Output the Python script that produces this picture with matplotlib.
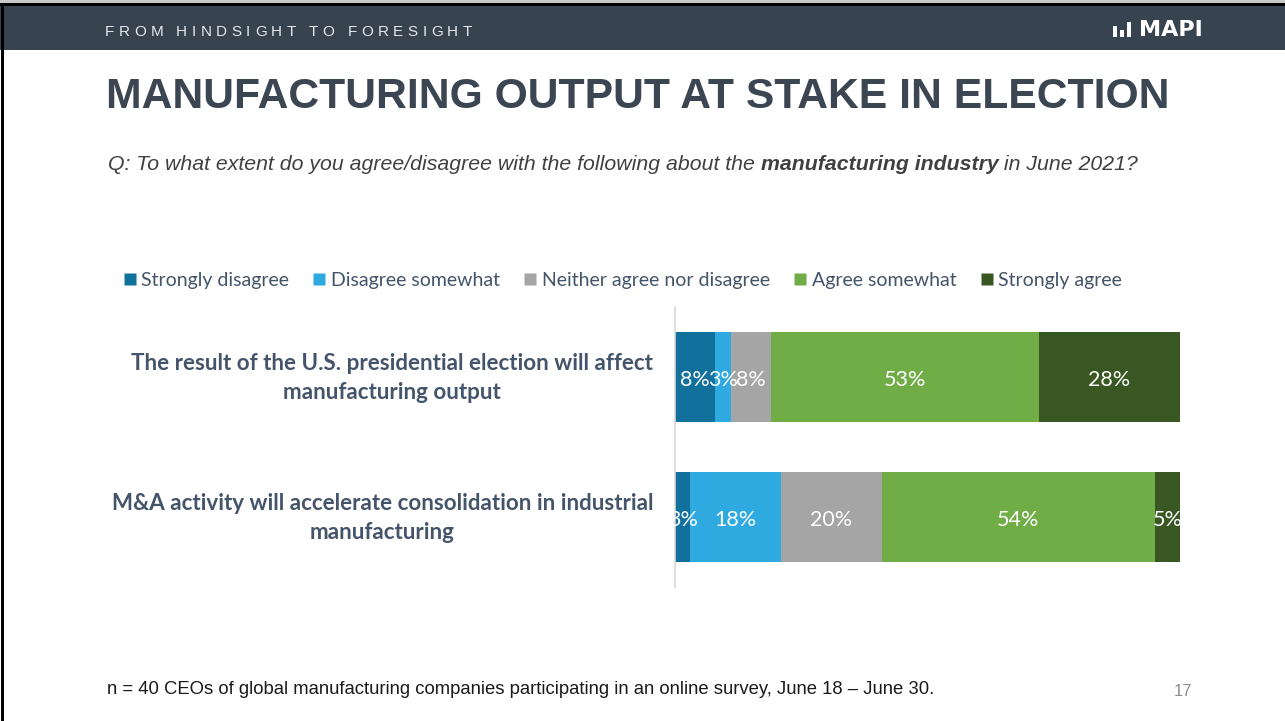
import matplotlib
matplotlib.use("Agg")
import matplotlib.pyplot as plt
from matplotlib.patches import Rectangle
from matplotlib.lines import Line2D

# ---------------- data ----------------
statements = [
    "The result of the U.S. presidential election will affect\nmanufacturing output",
    "M&A activity will accelerate consolidation in industrial\nmanufacturing",
]
responses = ["Strongly disagree", "Disagree somewhat", "Neither agree nor disagree",
             "Agree somewhat", "Strongly agree"]
strongly_disagree = [8, 3]
disagree_somewhat = [3, 18]
neither = [8, 20]
agree_somewhat = [53, 54]
strongly_agree = [28, 5]
colors = ["#12709C", "#2EAAE1", "#A5A5A5", "#70AD47", "#385723"]

title = "MANUFACTURING OUTPUT AT STAKE IN ELECTION"
header = "FROM HINDSIGHT TO FORESIGHT"
footnote = "n = 40 CEOs of global manufacturing companies participating in an online survey, June 18 \u2013 June 30."
page = "17"

W, H = 1285, 721
fig = plt.figure(figsize=(W / 100, H / 100), dpi=100)
fig.patch.set_facecolor("white")


def fx(x):
    return x / W


def fy(y):
    return 1 - y / H


renderer = fig.canvas.get_renderer()

# ---------------- frame / header band ----------------
fig.add_artist(Rectangle((0, fy(50)), 1, fy(6) - fy(50), transform=fig.transFigure,
                         facecolor="#37434F", edgecolor="none", zorder=1))
fig.add_artist(Rectangle((0, fy(6)), 1, fy(3) - fy(6), transform=fig.transFigure,
                         facecolor="black", edgecolor="none", zorder=2))
fig.add_artist(Rectangle((0, fy(3)), 1, fy(0) - fy(3), transform=fig.transFigure,
                         facecolor="#C8C8C8", edgecolor="none", zorder=2))
fig.add_artist(Rectangle((fx(1), 0), fx(3), fy(4), transform=fig.transFigure,
                         facecolor="black", edgecolor="none", zorder=2))

# letter-spaced header text
x = 105
for ch in header:
    t = fig.text(fx(x), fy(31.5), ch, color="#E6E8EA", fontsize=11,
                 family="Liberation Sans", va="center", ha="left", zorder=3)
    if ch == " ":
        w = 3.8
    else:
        w = t.get_window_extent(renderer).width
    x += w + 4.5

# MAPI logo
for bx, bh in [(1113, 11), (1120, 7), (1127, 15)]:
    fig.add_artist(Rectangle((fx(bx), fy(37)), fx(4), fy(37 - bh) - fy(37),
                             transform=fig.transFigure, facecolor="white",
                             edgecolor="none", zorder=3))
fig.text(fx(1139), fy(30.5), "MAPI", color="white", fontsize=16, fontweight="heavy",
         family="DejaVu Sans", va="center", ha="left", zorder=3)

# ---------------- title / subtitle ----------------
fig.text(fx(106), fy(97), title, color="#3B4652", fontsize=30.7, fontweight="bold",
         family="Liberation Sans", va="center", ha="left")

parts = [("Q: To what extent do you agree/disagree with the following about the ", "normal"),
         ("manufacturing industry", "bold"),
         (" in June 2021?", "normal")]
x = 108
for s, wgt in parts:
    t = fig.text(fx(x), fy(165), s, color="#404040", fontsize=15.3, style="italic",
                 fontweight=wgt, family="Liberation Sans", va="center", ha="left")
    x += t.get_window_extent(renderer).width

# ---------------- chart ----------------
ax = fig.add_axes([fx(675), fy(587), fx(1180) - fx(675), fy(307) - fy(587)])
series = [strongly_disagree, disagree_somewhat, neither, agree_somewhat, strongly_agree]
ypos = list(range(len(statements)))
left = [0] * len(statements)
for vals, col, name in zip(series, colors, responses):
    ax.barh(ypos, vals, left=left, height=0.645, color=col, edgecolor="none", label=name)
    for i, v in enumerate(vals):
        ax.text(left[i] + v / 2, ypos[i] + 0.02, f"{v}%", color="white", fontsize=15.5,
                family="Lato", ha="center", va="center")
    left = [l + v for l, v in zip(left, vals)]

ax.set_xlim(0, 100)
ax.set_ylim(1.5, -0.5)
ax.set_xticks([])
ax.set_yticks(ypos)
ax.set_yticklabels([])
ax.tick_params(axis="y", length=0)
for s in ["top", "right", "bottom"]:
    ax.spines[s].set_visible(False)
ax.spines["left"].set_color("#D9D9D9")
ax.spines["left"].set_linewidth(1.2)

for i, lab in enumerate(statements):
    ax.annotate(lab, xy=(0, ypos[i]), xycoords=("axes fraction", "data"),
                xytext=(-22, -1), textcoords="offset pixels",
                ha="right", va="center", multialignment="center",
                fontsize=16.1, fontweight="bold", family="Lato", color="#44546A",
                linespacing=1.42)

# legend
handles = [Line2D([0], [0], marker="s", linestyle="none", markersize=8.5,
                  markerfacecolor=c, markeredgecolor="none") for c in colors]
fig.legend(handles, responses, loc="center", bbox_to_anchor=(fx(622), fy(280)),
           ncol=5, frameon=False, handlelength=0.8, handletextpad=0.2,
           columnspacing=1.15, prop={"family": "Lato", "size": 14},
           labelcolor="#44546A")

# ---------------- footer ----------------
fig.text(fx(107), fy(689), footnote, color="#1A1A1A", fontsize=13.3,
         family="Liberation Sans", va="center", ha="left")
fig.text(fx(1192), fy(692), page, color="#8C8C8C", fontsize=12,
         family="Liberation Sans", va="center", ha="right")

fig.savefig("out.png", dpi=100, facecolor="white")
